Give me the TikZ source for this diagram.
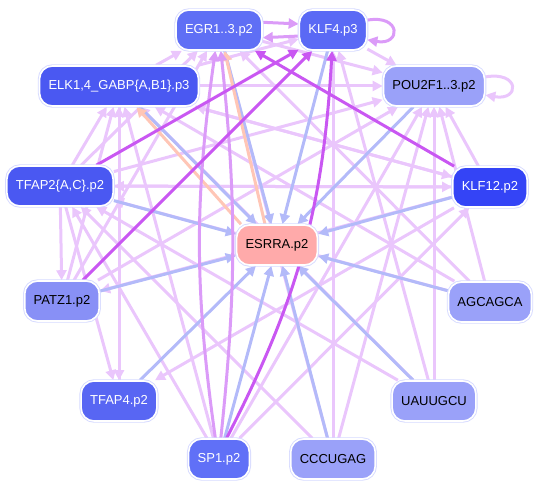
\documentclass[tikz,border=0pt]{standalone}
\usepackage{fontspec}
\setsansfont{Liberation Sans}
\usetikzlibrary{arrows.meta}
\pgfdeclarelayer{background}
\pgfsetlayers{background,main}
\definecolor{halo}{HTML}{D6DAFF}
\definecolor{lilac}{HTML}{EAC6FC}
\definecolor{mauve}{HTML}{DB9BF8}
\definecolor{violet}{HTML}{C957F2}
\definecolor{pale}{HTML}{B3BAF9}
\definecolor{peach}{HTML}{FFC6B6}
\definecolor{fillegr}{HTML}{5F6FF5}
\definecolor{fillklf}{HTML}{5A69F5}
\definecolor{fillelk}{HTML}{4A58F2}
\definecolor{filldeep}{HTML}{3444F6}
\definecolor{fillsoft}{HTML}{9AA1F9}
\definecolor{fillpatz}{HTML}{8890F6}
\definecolor{filltfap}{HTML}{5866F3}
\definecolor{fillsp}{HTML}{6070F7}
\definecolor{fillesrra}{HTML}{FFAAAA}
\tikzset{
  gene/.style={rounded corners=13pt,minimum height=40pt,inner xsep=9pt,
    draw=white,line width=1.6pt,preaction={draw=halo,line width=3.4pt},
    font=\sffamily\fontsize{13}{15}\selectfont},
  dark/.style={gene,fill=#1,text=white},
  light/.style={gene,fill=#1,text=black},
  link/.style={line width=3pt,-{Triangle[length=10pt,width=10pt]}},
  weak/.style={link,lilac},
  mid/.style={link,mauve},
  strong/.style={link,violet},
  toesrra/.style={link,pale},
  back/.style={link,peach}
}
\begin{document}
\begin{tikzpicture}[x=1pt,y=-1pt]
\useasboundingbox (0,0) rectangle (541,489);
\node[dark=fillegr] (egr) at (219,30) {EGR1..3.p2};
\node[dark=fillklf] (klf4) at (333,30) {KLF4.p3};
\node[dark=fillelk] (elk) at (119,86) {ELK1,4\_GABP\{A,B1\}.p3};
\node[light=fillsoft] (pou) at (434,86) {POU2F1..3.p2};
\node[dark=fillelk] (tfap2) at (60,186) {TFAP2\{A,C\}.p2};
\node[dark=filldeep] (klf12) at (490,187) {KLF12.p2};
\node[light=fillesrra] (esrra) at (277,245) {ESRRA.p2};
\node[light=fillpatz] (patz) at (62,301) {PATZ1.p2};
\node[light=fillsoft] (agca) at (490,302) {AGCAGCA};
\node[dark=filltfap] (tfap4) at (119,401) {TFAP4.p2};
\node[light=fillsoft] (uauu) at (434,401) {UAUUGCU};
\node[dark=fillsp] (sp1) at (219,459) {SP1.p2};
\node[light=fillsoft] (cccu) at (333,459) {CCCUGAG};
\begin{pgfonlayer}{background}
% weak regulation
\draw[weak] (egr) -- (pou);
\draw[weak] (klf4) -- (pou);
\draw[weak] (elk) -- (egr);
\draw[weak] (elk) -- (klf4);
\draw[weak] (elk) -- (pou);
\draw[weak] (elk) -- (tfap4);
\draw[weak] (elk) -- (klf12);
\draw[weak] (tfap2) -- (elk);
\draw[weak] (tfap2) -- (egr);
\draw[weak] (tfap2) -- (pou);
\draw[weak] (tfap2) -- (klf12);
\draw[weak] (tfap2) -- (patz);
\draw[weak] (tfap2) -- (tfap4);
\draw[weak] (patz) -- (elk);
\draw[weak] (patz) -- (egr);
\draw[weak] (patz) -- (pou);
\draw[weak] (tfap4) -- (elk);
\draw[weak] (sp1) -- (elk);
\draw[weak] (sp1) -- (tfap2);
\draw[weak] (sp1) -- (pou);
\draw[weak] (sp1) -- (klf12);
\draw[weak] (agca) -- (pou);
\draw[weak] (agca) -- (egr);
\draw[weak] (agca) -- (elk);
\draw[weak] (agca) -- (tfap2);
\draw[weak] (uauu) -- (pou);
\draw[weak] (uauu) -- (klf4);
\draw[weak] (uauu) -- (elk);
\draw[weak] (uauu) -- (tfap2);
\draw[weak] (cccu) -- (pou);
\draw[weak] (cccu) -- (egr);
\draw[weak] (cccu) -- (klf4);
\draw[weak] (cccu) -- (tfap2);
\draw[weak] (klf12) -- (pou);
\draw[weak] (klf12) -- (elk);
\draw[weak] (klf12) -- (tfap2);
\draw[weak] (klf12) -- (tfap4);
\draw[weak] (klf12) -- (patz);
\draw[weak] (pou.10) to[out=10,in=-10,looseness=5] (pou.-10);
% into ESRRA
\draw[toesrra] (tfap2) -- (esrra);
\draw[toesrra] (patz) -- (esrra);
\draw[toesrra] (tfap4) -- (esrra);
\draw[toesrra] (sp1) -- (esrra);
\draw[toesrra] (cccu) -- (esrra);
\draw[toesrra] (uauu) -- (esrra);
\draw[toesrra] (agca) -- (esrra);
\draw[toesrra] (klf12) -- (esrra);
\draw[toesrra] (pou) -- (esrra);
\draw[toesrra] (klf4) -- (esrra);
\draw[toesrra] (egr) -- (esrra);
\draw[toesrra] (elk) -- (esrra);
\draw[back] (esrra.150) -- (elk.-50);
\draw[back] (esrra.120) -- (egr.-75);
% strong regulation
\draw[mid] (egr.10) -- (klf4.170);
\draw[mid] (klf4.-170) -- (egr.-10);
\draw[mid] (klf4.16) to[out=10,in=-10,looseness=4.5] (klf4.-16);
\draw[mid] (sp1.100) to[bend left=8] (egr.-100);
\draw[mid] (sp1.85) to[bend right=6] (egr.-85);
\draw[strong] (klf12) -- (egr);
\draw[strong] (tfap2) -- (klf4);
\draw[strong] (patz) -- (klf4);
\draw[strong] (sp1.70) to[bend right=12] (klf4);
\end{pgfonlayer}
\end{tikzpicture}
\end{document}
